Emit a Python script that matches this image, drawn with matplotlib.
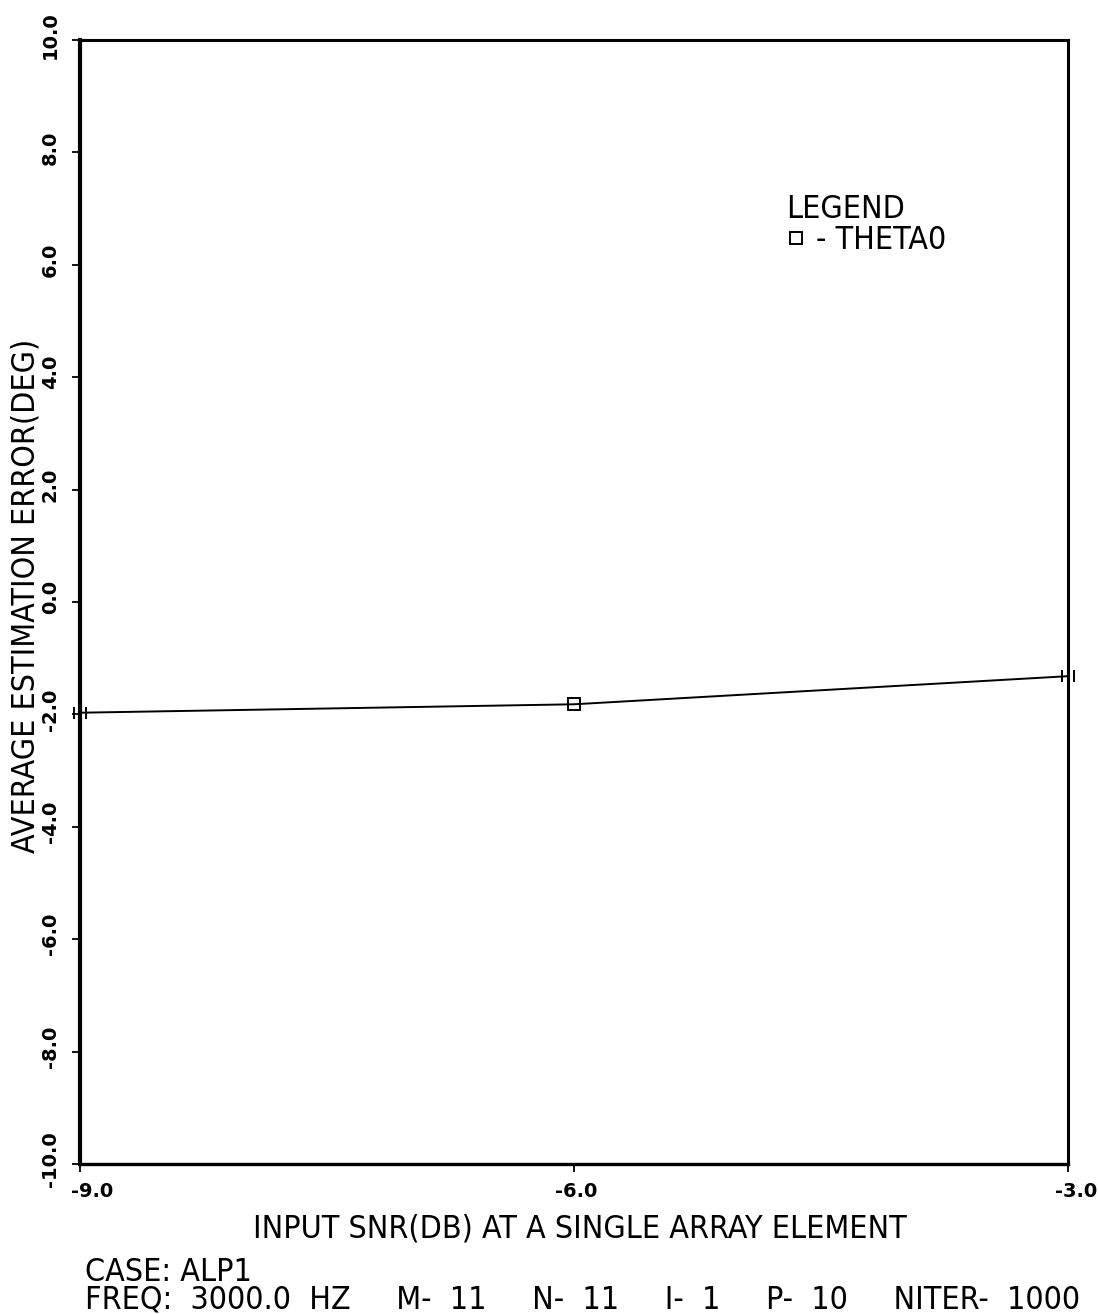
import matplotlib
matplotlib.use("Agg")
import matplotlib.pyplot as plt
from matplotlib.lines import Line2D
from matplotlib.path import Path
from matplotlib.transforms import ScaledTranslation

# average bearing estimation error vs input SNR
snr_db = [-9.0, -6.0, -3.0]
avg_err_deg = [-1.97, -1.82, -1.32]

x_ticks = [-9.0, -6.0, -3.0]
y_ticks = [-10.0, -8.0, -6.0, -4.0, -2.0, 0.0, 2.0, 4.0, 6.0, 8.0, 10.0]

# run parameters printed under the plot
case_name = "ALP1"
freq_hz = 3000.0
m_val, n_val, i_val, p_val, n_iter = 11, 11, 1, 10, 1000

label_font = {"family": "DejaVu Sans", "stretch": "condensed", "size": 23}
tick_font = {"family": "DejaVu Sans", "weight": "bold", "size": 14}

W, H = 1098, 1314
fig = plt.figure(figsize=(W / 100, H / 100), dpi=100)
ax = fig.add_axes([80 / W, 1 - 1164 / H, (1068 - 80) / W, (1164 - 40) / H])

ax.set_xlim(-9.0, -3.0)
ax.set_ylim(-10.0, 10.0)

ax.plot(snr_db, avg_err_deg, color="black", lw=1.4, clip_on=False, zorder=3)
ax.plot(snr_db[1:-1], avg_err_deg[1:-1], "s", ms=8.5, mfc="none", mec="black",
        mew=1.4, zorder=4)

# the end points sit on the frame, only the side strokes of the box show
bracket = Path([(-1, -1), (-1, 1), (1, -1), (1, 1)],
               [Path.MOVETO, Path.LINETO, Path.MOVETO, Path.LINETO])
ax.plot([snr_db[0], snr_db[-1]], [avg_err_deg[0], avg_err_deg[-1]],
        ls="none", marker=bracket, ms=8.5, mec="black", mew=1.4,
        clip_on=False, zorder=4)

for side, lw in [("left", 3.0), ("right", 2.2), ("top", 2.2), ("bottom", 2.4)]:
    ax.spines[side].set_linewidth(lw)

ax.set_xticks(x_ticks)
ax.set_xticklabels([f"{v:.1f}" for v in x_ticks], fontdict=tick_font)
ax.set_yticks(y_ticks)
ax.set_yticklabels([f"{v:.1f}" for v in y_ticks], fontdict=tick_font,
                   rotation=90, va="center")
ax.tick_params(direction="out", length=6, width=1.3, pad=7)

for lab, dx in zip(ax.get_xticklabels(), [12, 2, 8]):
    lab.set_transform(lab.get_transform() + ScaledTranslation(dx / 100, 0, fig.dpi_scale_trans))
for lab in ax.get_yticklabels():
    lab.set_transform(lab.get_transform() + ScaledTranslation(-2 / 100, 5 / 100, fig.dpi_scale_trans))

ax.set_xlabel("INPUT SNR(DB) AT A SINGLE ARRAY ELEMENT", fontdict=label_font,
              va="baseline")
ax.xaxis.set_label_coords((580 - 80) / 988, (1164 - 1237) / 1124)
ax.set_ylabel("AVERAGE ESTIMATION ERROR(DEG)", fontdict=label_font, va="center")
ax.yaxis.set_label_coords((26 - 80) / 988, (1164 - 596) / 1124)

handle = Line2D([], [], ls="none", marker="s", ms=8, mfc="none", mec="black", mew=1.4)
ax.legend([handle], ["- THETA0"], title="LEGEND", frameon=False, alignment="left",
          loc="upper left", bbox_to_anchor=((786 - 80) / 988, (1164 - 194) / 1124),
          prop=label_font, title_fontproperties=label_font,
          handlelength=0.6, handletextpad=0.35, borderpad=0, borderaxespad=0,
          labelspacing=0)

fig.text(85 / W, 1 - 1281 / H, "CASE: " + case_name, fontdict=label_font,
         ha="left", va="baseline")

gap = " " * 5
run_info = gap.join([f"FREQ:  {freq_hz:.1f}  HZ", f"M-  {m_val}", f"N-  {n_val}",
                     f"I-  {i_val}", f"P-  {p_val}", f"NITER-  {n_iter}"])
fig.text(85 / W, 1 - 1309 / H, run_info, fontdict=label_font, ha="left", va="baseline")

fig.savefig("out.png", dpi=100, facecolor="white")
